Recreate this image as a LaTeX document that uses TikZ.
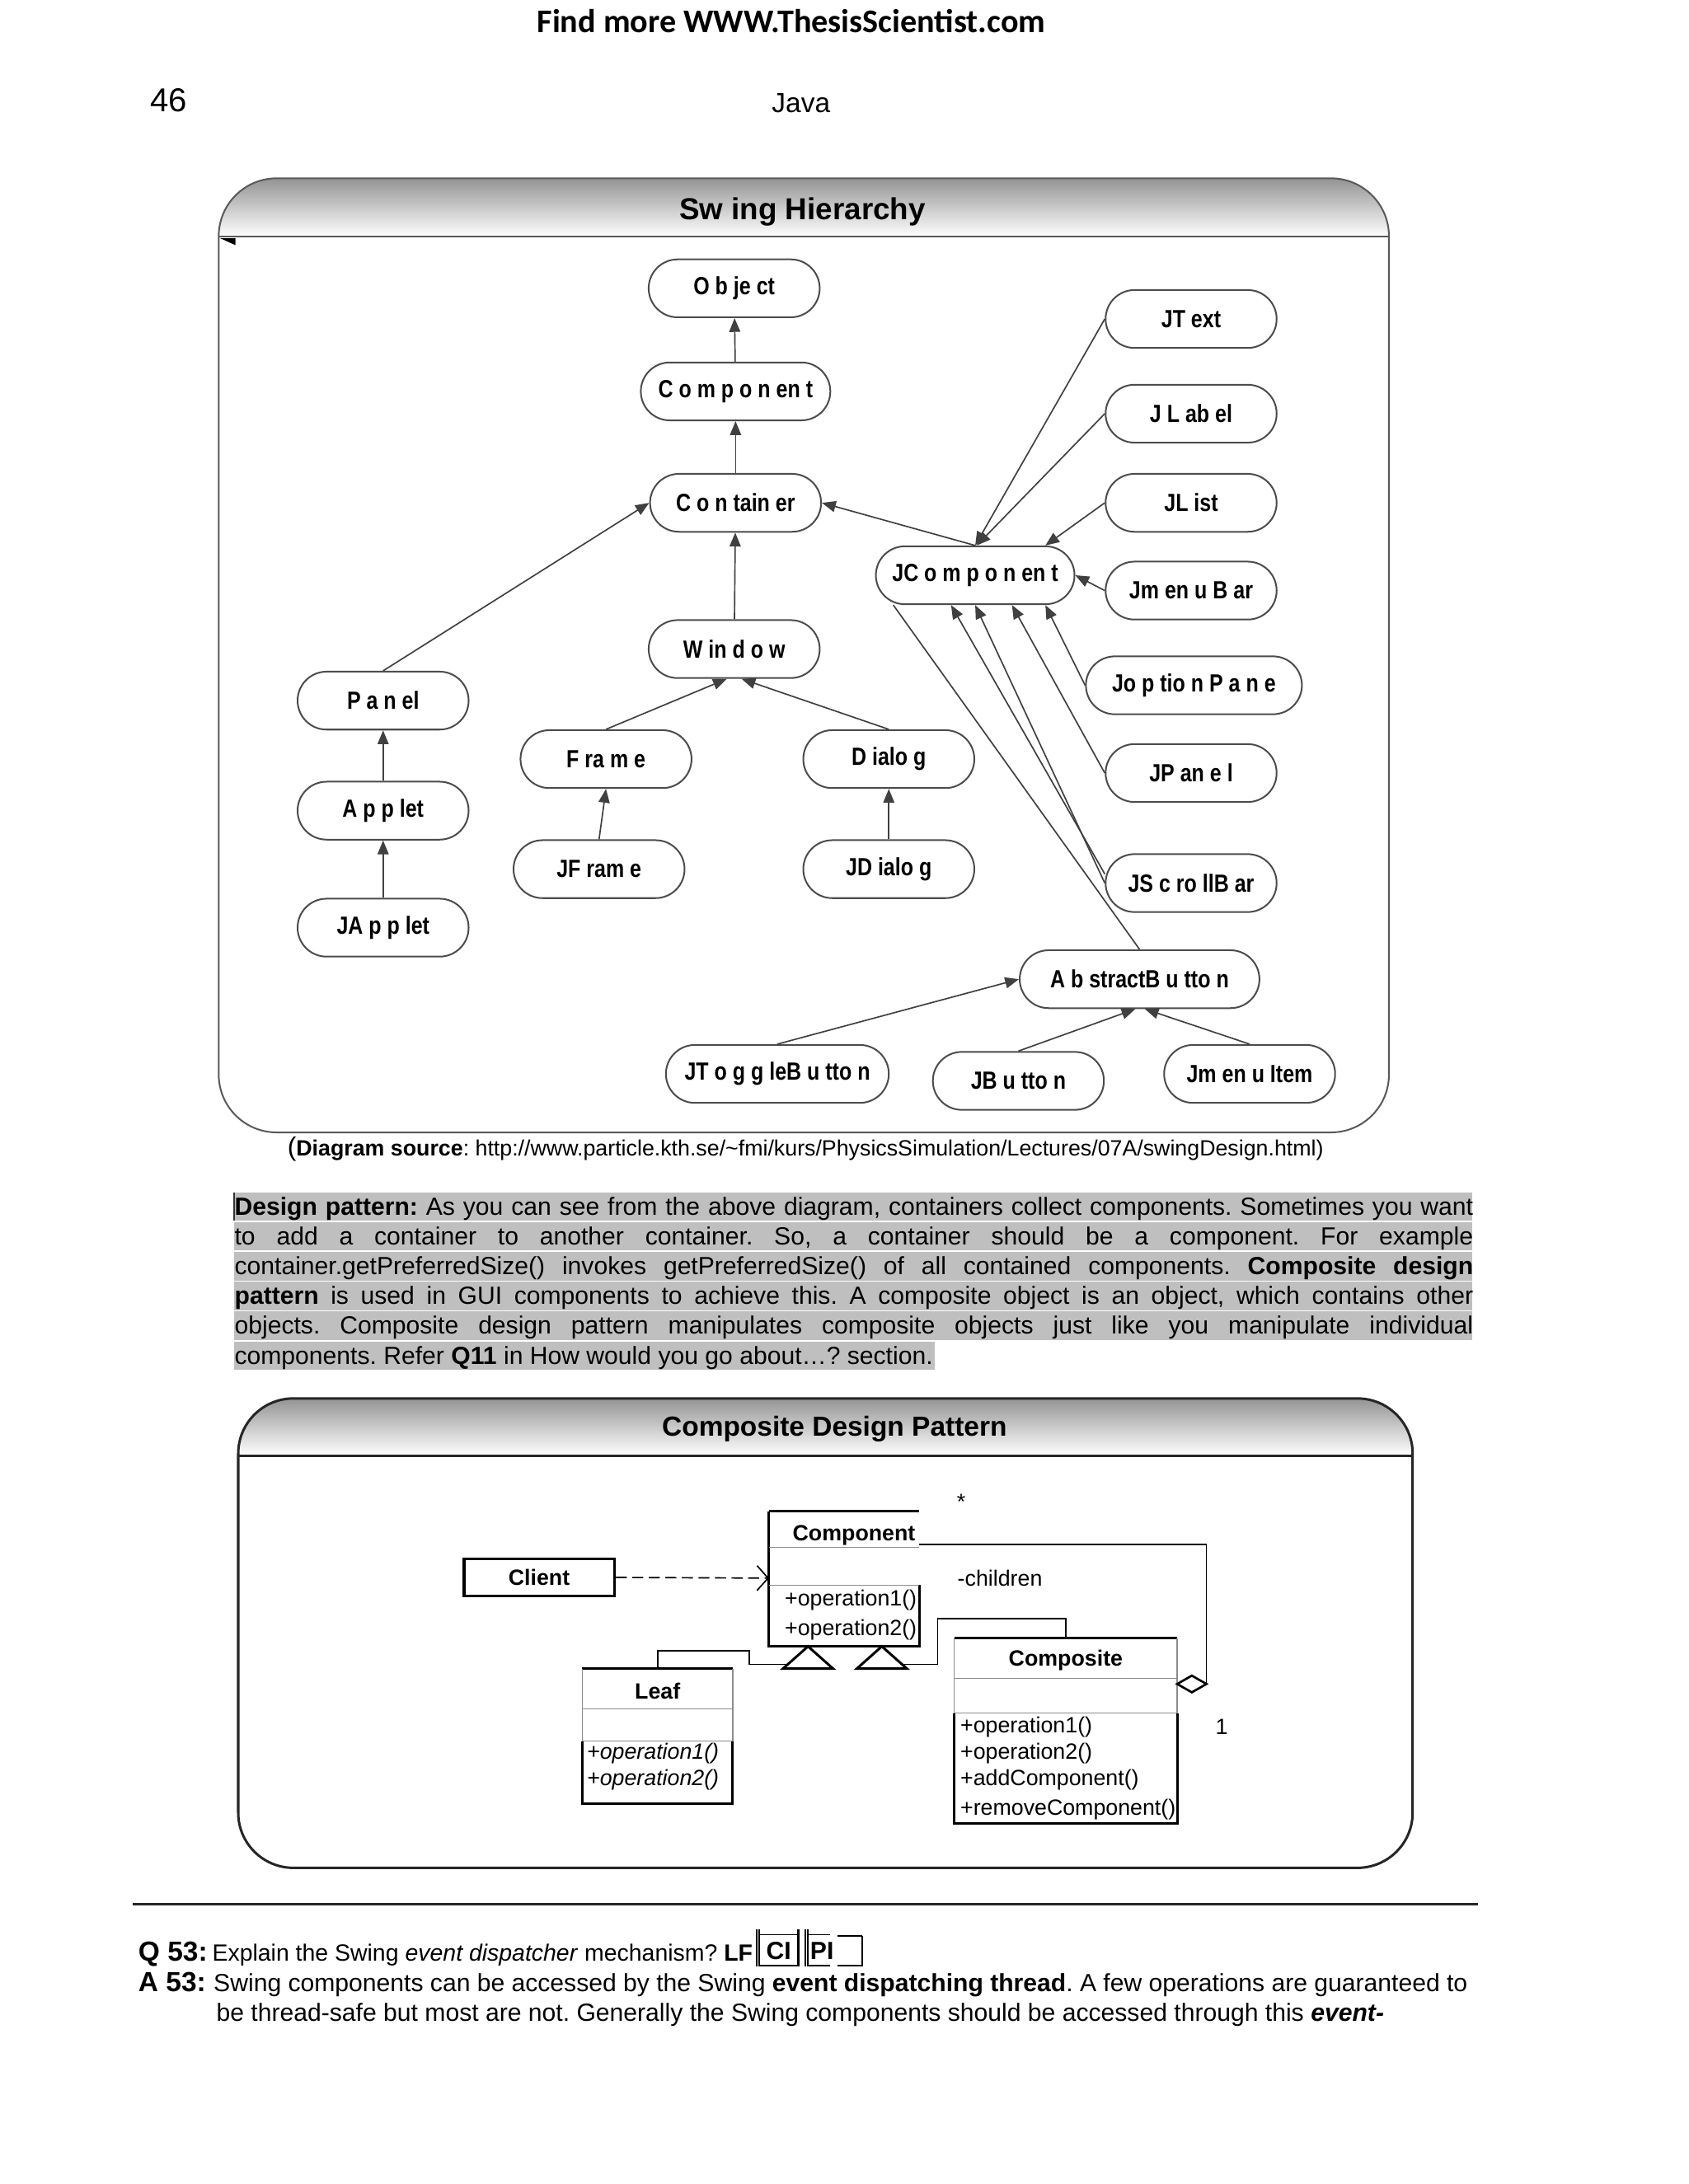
\documentclass[tikz,border=0pt]{standalone}
\usepackage{fontspec}
\setmainfont{Liberation Sans}
\newfontfamily\headfont{Carlito}
\newfontfamily\swingfont[FakeStretch=0.83]{Liberation Sans}
\usetikzlibrary{arrows.meta}

\definecolor{hilite}{gray}{0.75}
\frenchspacing

\begin{document}
\begin{tikzpicture}
	[x = 0.505pt, y = -0.505pt,
	cls/.style = {draw = black!70, line width = 0.6pt, rounded corners = 10.5pt,
		minimum width = 62pt, minimum height = 21pt, inner sep = 0pt,
		font = \swingfont\bfseries\fontsize{9}{10}\selectfont},
	isa/.style = {draw = black!75, line width = 0.5pt, -{Triangle[length = 5pt, width = 4pt]}},
	plain/.style = {draw = black!75, line width = 0.5pt},
	frame/.style = {draw = black!65, line width = 0.6pt, rounded corners = 21pt},
	band/.style = {top color = black!42, bottom color = white},
	bodyline/.style = {anchor = base west, inner sep = 0pt, font = \fontsize{9}{10.7}\selectfont},
	umlline/.style = {draw = black, line width = 0.9pt},
	umlsep/.style = {draw = black!45, line width = 0.4pt},
	umlthin/.style = {draw = black, line width = 0.5pt},
	umltext/.style = {anchor = west, inner sep = 0pt, font = \fontsize{8}{9}\selectfont},
	umlname/.style = {inner sep = 0pt, font = \bfseries\fontsize{8}{9}\selectfont}]

	\useasboundingbox (0,0) rectangle (1212,1568);
	\fill [white] (0,0) rectangle (1212,1568);

	% running head
	\node [font = \headfont\bfseries\fontsize{12}{14}\selectfont] (site) at (568,15) {Find more WWW.ThesisScientist.com};
	\node [font = \fontsize{12}{14}\selectfont] (pageno) at (121,72) {46};
	\node [font = \fontsize{10}{12}\selectfont] (runhead) at (575,74) {Java};

	% swing hierarchy frame
	\begin{scope}
		\clip [rounded corners = 21pt] (157,128) rectangle (997,813);
		\shade [band] (157,128) rectangle (997,170);
	\end{scope}
	\draw [frame] (157,128) rectangle (997,813);
	\draw [draw = black!65, line width = 0.6pt] (157,170) -- (997,170);
	\fill [black] (158,171) -- (169,171) -- (169,176) -- cycle;
	\node [font = \bfseries\fontsize{11}{13}\selectfont] (swtitle) at (576,152) {Sw ing Hierarchy};

	\node [cls] (object) at (527,207) {O b je ct};
	\node [cls, minimum width = 68.7pt] (component) at (528,281) {C o m p o n en t};
	\node [cls] (container) at (528,361) {C o n tain er};
	\node [cls] (window) at (527,466) {W in d o w};
	\node [cls] (panel) at (275,503) {P a n el};
	\node [cls] (applet) at (275,582) {A p p let};
	\node [cls] (japplet) at (275,666) {JA p p let};
	\node [cls] (frame) at (435,545) {F ra m e};
	\node [cls] (jframe) at (430,624) {JF ram e};
	\node [cls] (dialog) at (638,545) {D ialo g};
	\node [cls] (jdialog) at (638,624) {JD ialo g};
	\node [cls, minimum width = 72pt] (jcomponent) at (700,413) {JC o m p o n en t};
	\node [cls] (jtext) at (855,229) {JT ext};
	\node [cls] (jlabel) at (855,297) {J L ab el};
	\node [cls] (jlist) at (855,361) {JL ist};
	\node [cls] (jmenubar) at (855,424) {Jm en u B ar};
	\node [cls, minimum width = 78.3pt] (joptionpane) at (857,492) {Jo p tio n P a n e};
	\node [cls] (jpanel) at (855,555) {JP an e l};
	\node [cls] (jscrollbar) at (855,634) {JS c ro llB ar};
	\node [cls, minimum width = 86.9pt] (abstractbutton) at (818,703) {A b stractB u tto n};
	\node [cls, minimum width = 80.8pt] (jtogglebutton) at (558,771) {JT o g g leB u tto n};
	\node [cls] (jbutton) at (731,776) {JB u tto n};
	\node [cls] (jmenuitem) at (897,771) {Jm en u Item};

	\draw [isa] (component) -- (object);
	\draw [isa] (container) -- (component);
	\draw [isa] (window) -- (container);
	\draw [isa] (panel.north) -- (container.west);
	\draw [isa] (applet) -- (panel);
	\draw [isa] (japplet) -- (applet);
	\draw [isa] (frame.north) -- (window.-104);
	\draw [isa] (dialog.north) -- (window.-76);
	\draw [isa] (jframe.north) -- (frame.south);
	\draw [isa] (jdialog) -- (dialog);
	\draw [isa] (jcomponent.north) -- (container.east);
	\draw [isa] (jtext.west) -- (jcomponent.north);
	\draw [isa] (jlabel.west) -- (jcomponent.87);
	\draw [isa] (jlist.west) -- (jcomponent.23);
	\draw [isa] (jmenubar.west) -- (jcomponent.east);
	\draw [isa] (joptionpane.west) -- (jcomponent.-23);
	\draw [isa] (jpanel.west) -- (jcomponent.-39);
	\draw [isa] (jscrollbar.west) -- (jcomponent.-90);
	\draw [isa] (jscrollbar.174) -- (jcomponent.-129);
	\draw [plain] (abstractbutton.north) -- (jcomponent.-160);
	\draw [isa] (jtogglebutton.north) -- (abstractbutton.west);
	\draw [isa] (jbutton.north) -- (abstractbutton.-98);
	\draw [isa] (jmenuitem.north) -- (abstractbutton.-80);

	\node [anchor = west, inner sep = 0pt, font = \fontsize{8}{10}\selectfont] (source) at (206,825)
		{{\fontsize{9.5}{10}\selectfont(}\textbf{Diagram source}: http://www.particle.kth.se/\textasciitilde fmi/kurs/PhysicsSimulation/Lectures/07A/swingDesign.html)};

	% highlighted paragraph
	\foreach \row in {0,...,4}
		\fill [hilite] (168,856+21.4*\row) rectangle (1057,876.4+21.4*\row);
	\fill [hilite] (168,963) rectangle (671,983.4);
	\draw [black!80, line width = 0.5pt] (168,856) -- (168,876.4);
	\node [bodyline] (line1) at (168,872.3) {\makebox[449pt][s]{\textbf{Design pattern:} As you can see from the above diagram, containers collect components. Sometimes you want}};
	\node [bodyline] (line2) at (168,893.7) {\makebox[449pt][s]{to add a container to another container. So, a container should be a component. For example}};
	\node [bodyline] (line3) at (168,915.1) {\makebox[449pt][s]{container.getPreferredSize() invokes getPreferredSize() of all contained components. \textbf{Composite design}}};
	\node [bodyline] (line4) at (168,936.5) {\makebox[449pt][s]{\textbf{pattern} is used in GUI components to achieve this. A composite object is an object, which contains other}};
	\node [bodyline] (line5) at (168,957.9) {\makebox[449pt][s]{objects. Composite design pattern manipulates composite objects just like you manipulate individual}};
	\node [bodyline] (line6) at (168,979.3) {components. Refer \textbf{Q11} in How would you go about…? section.};

	% composite design pattern frame
	\begin{scope}
		\clip [rounded corners = 20pt] (171,1004) rectangle (1014,1341);
		\shade [band] (171,1004) rectangle (1014,1045);
	\end{scope}
	\draw [frame, draw = black!85, line width = 0.9pt, rounded corners = 20pt] (171,1004) rectangle (1014,1341);
	\draw [draw = black!85, line width = 0.9pt] (171,1045) -- (1014,1045);
	\node [font = \bfseries\fontsize{10}{12}\selectfont] (cptitle) at (599,1026) {Composite Design Pattern};

	% client
	\node [draw, line width = 1pt, minimum width = 54.5pt, minimum height = 13.6pt, inner sep = 0pt,
		font = \bfseries\fontsize{8}{9}\selectfont] (client) at (387,1132.5) {Client};

	% component class
	\draw [umlline] (552,1085) -- (660,1085);
	\draw [umlline] (660,1138) -- (660,1182) -- (552,1182) -- (552,1085);
	\draw [umlsep] (552,1111) -- (660,1111) (552,1138) -- (660,1138);
	\node [umlname] (cpname) at (613,1102) {Component};
	\node [umltext] (cpop1) at (563,1149) {+operation1()};
	\node [umltext] (cpop2) at (563,1170) {+operation2()};
	\coordinate (cpleft) at (552,1133);
	\coordinate (cpright) at (660,1109);

	% leaf class
	\draw [umlline] (418,1198) -- (526,1198);
	\draw [umlsep] (418,1198) -- (418,1250) (526,1198) -- (526,1250);
	\draw [umlline] (418,1250) -- (418,1295) -- (526,1295) -- (526,1250);
	\draw [umlsep] (418,1227) -- (526,1227) (418,1250) -- (526,1250);
	\node [umlname] (leafname) at (472,1214) {Leaf};
	\node [umltext, font = \itshape\fontsize{8}{9}\selectfont] (leafop1) at (421,1259) {+operation1()};
	\node [umltext, font = \itshape\fontsize{8}{9}\selectfont] (leafop2) at (421,1278) {+operation2()};
	\coordinate (leaftop) at (472,1198);

	% composite class
	\draw [umlline] (685,1176) -- (845,1176);
	\draw [umlsep] (685,1176) -- (685,1230) (845,1176) -- (845,1230);
	\draw [umlline] (685,1230) -- (685,1309) -- (845,1309) -- (845,1230);
	\draw [umlsep] (685,1205) -- (845,1205) (685,1230) -- (845,1230);
	\node [umlname] (cmname) at (765,1192) {Composite};
	\node [umltext] (cmop1) at (689,1240) {+operation1()};
	\node [umltext] (cmop2) at (689,1259) {+operation2()};
	\node [umltext] (cmop3) at (689,1278) {+addComponent()};
	\node [umltext] (cmop4) at (689,1299) {+removeComponent()};
	\coordinate (cmtop) at (765,1176);

	% generalisation
	\draw [umlline, fill = white] (580,1182) -- (598,1198) -- (562,1198) -- cycle;
	\draw [umlline, fill = white] (633,1182) -- (651,1198) -- (615,1198) -- cycle;
	\coordinate (gen1) at (565,1195);
	\coordinate (gen2) at (648,1195);
	\draw [umlthin] (leaftop) -- (472,1185) -- (538,1185) -- (538,1195) -- (gen1);
	\draw [umlthin] (gen2) -- (673,1195) -- (673,1162) -- (765,1162) -- (cmtop);

	% aggregation
	\draw [umlthin] (cpright) -- (866,1109) -- (866,1209);
	\draw [umlthin, line width = 0.8pt, fill = white] (845,1209) -- (855.5,1203) -- (866,1209) -- (855.5,1215) -- cycle;
	\node [font = \fontsize{8}{9}\selectfont] (many) at (690,1078) {*};
	\node [umltext] (children) at (687,1133) {-children};
	\node [font = \fontsize{8}{9}\selectfont] (one) at (877,1240) {1};

	% dependency
	\draw [umlthin, dash pattern = on 4pt off 2pt, -{Straight Barb[length = 4pt, width = 9pt]}] (client.east) -- (cpleft);

	% question and answer
	\draw [black!85, line width = 0.9pt] (95,1367) -- (1061,1367);
	\node [bodyline, font = \bfseries\fontsize{10}{12}\selectfont] (q53) at (99,1408) {Q 53:};
	\node [bodyline, font = \fontsize{8.5}{10}\selectfont] (qtext) at (152,1408) {Explain the Swing \textit{event dispatcher} mechanism? \textbf{LF}};
	\draw [black, line width = 0.7pt] (543,1385) -- (543,1412) (545,1385) -- (545,1412) (573,1385) -- (573,1412)
		(578,1385) -- (578,1412) (580,1385) -- (580,1412) (619,1390) -- (619,1412);
	\draw [black, line width = 0.5pt] (545,1389) -- (573,1389) (580,1389) -- (596,1389) (601,1390) -- (619,1390);
	\draw [black, line width = 0.7pt] (545,1411) -- (573,1411) (580,1411) -- (596,1411) (601,1411) -- (619,1411);
	\node [anchor = base, inner sep = 0pt, font = \bfseries\fontsize{9}{10}\selectfont] (ci) at (559,1407) {CI};
	\node [anchor = base, inner sep = 0pt, font = \bfseries\fontsize{9}{10}\selectfont] (pi) at (590,1407) {PI};
	\node [bodyline, font = \bfseries\fontsize{10}{12}\selectfont] (a53) at (99,1430) {A 53:};
	\node [bodyline] (aline1) at (153,1430) {\makebox[454.5pt][s]{Swing components can be accessed by the Swing \textbf{event dispatching thread}. A few operations are guaranteed to}};
	\node [bodyline] (aline2) at (155,1451) {be thread-safe but most are not. Generally the Swing components should be accessed through this \textbf{\textit{event-}}};
\end{tikzpicture}
\end{document}
